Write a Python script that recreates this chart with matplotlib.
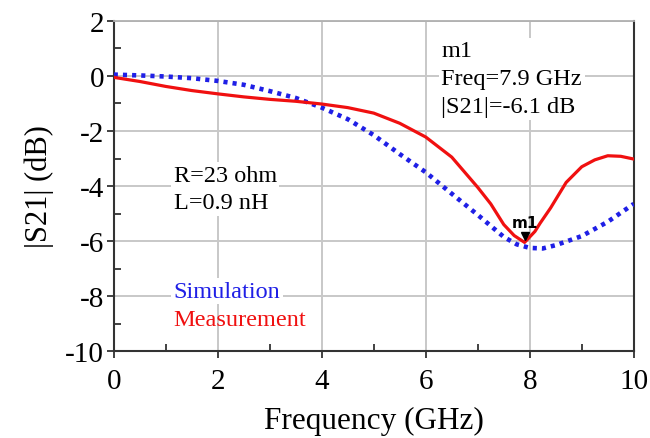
import matplotlib.pyplot as plt
from matplotlib.ticker import MultipleLocator

# data (GHz, dB)
freq_meas = [0, 0.5, 1, 1.5, 2, 2.5, 3, 3.5, 4, 4.5, 5, 5.5, 6, 6.5, 7, 7.25, 7.5, 7.7, 7.9,
             8.1, 8.2, 8.4, 8.7, 9, 9.25, 9.5, 9.75, 10]
s21_meas = [-0.05, -0.2, -0.38, -0.53, -0.65, -0.76, -0.85, -0.92, -1.02, -1.15, -1.35, -1.72, -2.22,
            -2.95, -4.05, -4.65, -5.4, -5.8, -6.05, -5.65, -5.35, -4.8, -3.87, -3.3,
            -3.05, -2.9, -2.92, -3.02]

freq_sim = [0, 0.5, 1, 1.5, 2, 2.5, 3, 3.5, 4, 4.5, 5, 5.5, 6, 6.5, 7, 7.5, 7.75, 8, 8.25, 8.5,
            9, 9.5, 10]
s21_sim = [0.05, 0.02, -0.02, -0.08, -0.18, -0.32, -0.55, -0.8, -1.15, -1.57, -2.15, -2.84, -3.5,
           -4.28, -5.05, -5.85, -6.12, -6.25, -6.27, -6.15, -5.82, -5.3, -4.65]

m1_freq = 7.9
m1_s21 = -6.1

plt.rcParams['font.family'] = ['Liberation Serif', 'DejaVu Serif']
plt.rcParams['axes.unicode_minus'] = False

fig = plt.figure(figsize=(6.5, 4.39), dpi=100)
ax = fig.add_axes([0.175, 0.198, 0.80, 0.752])

ax.plot(freq_sim, s21_sim, color='#1f1fe6', linewidth=3.3, linestyle=(0, (0.9, 1.1)),
        solid_capstyle='butt', zorder=3)
ax.plot(freq_meas, s21_meas, color='#f01010', linewidth=2.3, zorder=4)

# marker m1
ax.plot([m1_freq], [m1_s21 + 0.28], marker='v', color='black', markersize=6, zorder=5)
ax.text(m1_freq, m1_s21 + 0.5, 'm1', family='DejaVu Sans', fontweight='bold', fontsize=11,
        ha='center', va='bottom', zorder=5)

ax.set_xlim(0, 10)
ax.set_ylim(-10, 2)
ax.xaxis.set_major_locator(MultipleLocator(2))
ax.xaxis.set_minor_locator(MultipleLocator(1))
ax.yaxis.set_major_locator(MultipleLocator(2))
ax.yaxis.set_minor_locator(MultipleLocator(1))
ax.tick_params(which='major', direction='out', length=5, width=1.3, labelsize=21, pad=2, color='#333333')
ax.tick_params(which='minor', direction='in', length=5, width=1.3, color='#333333')
ax.tick_params(axis='x', pad=7)
ax.grid(True, which='major', color='#c8c8c8', linewidth=1.4, zorder=0)
ax.set_axisbelow(True)

for side in ['left', 'bottom', 'right']:
    ax.spines[side].set_color('#333333')
    ax.spines[side].set_linewidth(1.5)
ax.spines['top'].set_color('#b0b0b0')
ax.spines['top'].set_linewidth(1.3)

ax.set_xlabel('Frequency (GHz)', fontsize=22.5, labelpad=9)
ax.set_ylabel('|S21| (dB)', fontsize=22, labelpad=8)

box = dict(facecolor='white', edgecolor='none', pad=2)
ax.text(6.3, -0.1, 'm1\nFreq=7.9 GHz\n|S21|=-6.1 dB', fontsize=17.5, ha='left', va='center',
        linespacing=1.43, bbox=box, zorder=2)
ax.text(1.15, -4.1, 'R=23 ohm\nL=0.9 nH', fontsize=17.5, ha='left', va='center',
        linespacing=1.4, bbox=box, zorder=2)
ax.text(1.15, -7.82, 'Simulation', fontsize=17.5, color='#1f1fe6', ha='left', va='center',
        bbox=box, zorder=2)
ax.text(1.15, -8.87, 'Measurement', fontsize=17.5, color='#f01010', ha='left', va='center',
        zorder=2)

plt.savefig('out.png', dpi=100)
